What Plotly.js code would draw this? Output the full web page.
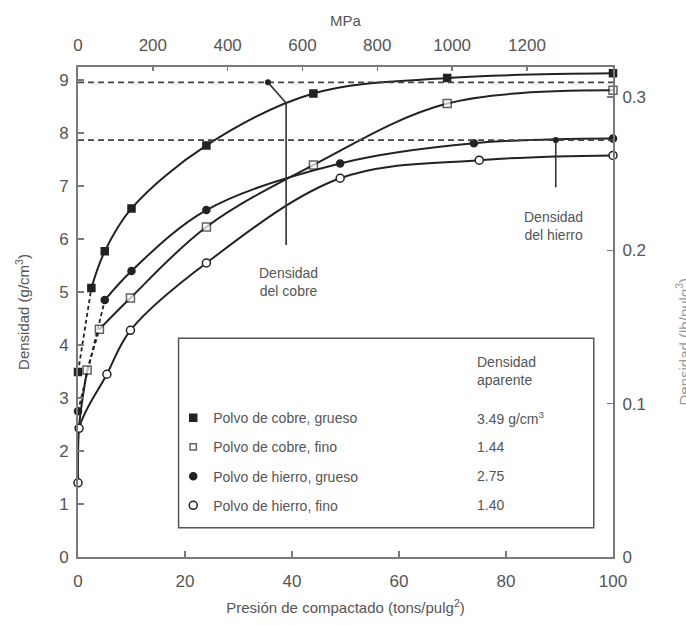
<!DOCTYPE html>
<html>
<head>
<meta charset="utf-8">
<script src="https://cdn.plot.ly/plotly-3.0.1.min.js"></script>
<style>html,body{margin:0;padding:0;background:#fff;}#chart{width:686px;height:625px;}</style>
</head>
<body>
<div id="chart"></div>
<script>
// ---- data ----
const seriesNames = ["Polvo de cobre, grueso", "Polvo de cobre, fino", "Polvo de hierro, grueso", "Polvo de hierro, fino"];
const apparentDensity = ["3.49 g/cm<sup>3</sup>", "1.44", "2.75", "1.40"];

const cuCoarseP = [0, 2.5, 5, 10, 24, 44, 69, 100];
const cuCoarseD = [3.49, 5.08, 5.77, 6.58, 7.77, 8.75, 9.04, 9.13];

const cuFineP = [0, 0.2, 1.7, 4, 9.8, 24, 44, 69, 100];
const cuFineD = [1.44, 2.45, 3.53, 4.30, 4.89, 6.23, 7.40, 8.56, 8.81];

const feCoarseP = [0, 5, 10, 24, 49, 74, 100];
const feCoarseD = [2.75, 4.85, 5.40, 6.55, 7.43, 7.81, 7.90];

const feFineP = [0, 0.2, 5.4, 9.8, 24, 49, 75, 100];
const feFineD = [1.40, 2.43, 3.45, 4.28, 5.55, 7.15, 7.49, 7.58];

const copperDensity = 8.96;   // g/cm3
const ironDensity = 7.87;     // g/cm3

const xTicks = [0, 20, 40, 60, 80, 100];
const yTicks = [0, 1, 2, 3, 4, 5, 6, 7, 8, 9];
const mpaTicks = [0, 200, 400, 600, 800, 1000, 1200];
const lbTicks = [0, 0.1, 0.2, 0.3];

// ---- styles ----
const ink = '#222';
const txt = '#555';
const axc = '#7a7a7a';
const FONT = '"Liberation Sans", Arial, sans-serif';

// per-segment dash flags (style only)
const cuCoarseDash = [true, false, false, false, false, false, false];
const cuFineDash   = [false, false, true, false, false, false, false, false];
const feCoarseDash = [true, false, false, false, false, false];
const feFineDash   = [false, false, false, false, false, false, false];

const cuFineMarkerSize = [0, 0, 8, 8, 8, 8, 8, 8, 8];

function lineTraces(x, y, dash) {
  const out = [];
  let start = 0;
  for (let i = 1; i <= dash.length; i++) {
    if (i === dash.length || dash[i] !== dash[start]) {
      out.push({
        x: x.slice(start, i + 1), y: y.slice(start, i + 1),
        mode: 'lines', showlegend: false, hoverinfo: 'skip', cliponaxis: false,
        line: {color: ink, width: dash[start] ? 1.8 : 2, dash: dash[start] ? '4px,3px' : 'solid',
               shape: dash[start] ? 'linear' : 'spline', smoothing: 1}
      });
      start = i;
    }
  }
  return out;
}

function markerTrace(x, y, name, symbol, filled, size) {
  return {
    x: x, y: y, mode: 'markers', name: name, legendgroup: name, cliponaxis: false,
    marker: {symbol: symbol, size: size || 8, color: filled ? ink : '#fff',
             line: {color: ink, width: 1.5}}
  };
}

const traces = [].concat(
  lineTraces(cuCoarseP, cuCoarseD, cuCoarseDash),
  lineTraces(cuFineP, cuFineD, cuFineDash),
  lineTraces(feCoarseP, feCoarseD, feCoarseDash),
  lineTraces(feFineP, feFineD, feFineDash),
  [
    markerTrace(cuCoarseP, cuCoarseD, seriesNames[0], 'square', true, 7),
    markerTrace(cuFineP, cuFineD, seriesNames[1], 'square', false, cuFineMarkerSize),
    markerTrace(feCoarseP, feCoarseD, seriesNames[2], 'circle', true, 7),
    markerTrace(feFineP, feFineD, seriesNames[3], 'circle', false, 8),
    {x: [], y: [], xaxis: 'x2', yaxis: 'y2', showlegend: false, mode: 'markers'}
  ]
);

const yTop = 9.25;
const lbPerG = 0.3 / 8.68;

const axisBase = {
  showgrid: false, zeroline: false, showline: true, linecolor: axc, linewidth: 2,
  ticks: 'inside', ticklen: 6, tickcolor: axc, tickwidth: 1.5,
  tickfont: {family: FONT, size: 17, color: txt}, automargin: false
};

const annBase = {showarrow: false, font: {family: FONT, size: 14, color: txt}};
const annotations = [
  Object.assign({}, annBase, {x: 39.3, y: 5.19, xref: 'x', yref: 'y', text: 'Densidad<br>del cobre', align: 'center'}),
  Object.assign({}, annBase, {x: 88.8, y: 6.25, xref: 'x', yref: 'y', text: 'Densidad<br>del hierro', align: 'center'}),
  Object.assign({}, annBase, {x: 74.2, y: 3.52, xref: 'x', yref: 'y', xanchor: 'left', text: 'Densidad<br>aparente', align: 'left'}),
  Object.assign({}, annBase, {x: 1, y: 0.5, xref: 'paper', yref: 'paper', xshift: 81, yshift: -30,
    text: 'Densidad (lb/pulg<sup>3</sup>)', textangle: -90, font: {family: FONT, size: 15, color: '#999'}})
];
const legendRowsY = [2.62, 2.08, 1.53, 0.98];
apparentDensity.forEach((t, i) => {
  annotations.push(Object.assign({}, annBase, {x: 74.2, y: legendRowsY[i], xref: 'x', yref: 'y', xanchor: 'left', text: t}));
});

const shapes = [
  {type: 'line', xref: 'x', yref: 'y', x0: 0, x1: 100, y0: copperDensity, y1: copperDensity,
   line: {color: '#444', width: 1.8, dash: '6px,4px'}},
  {type: 'line', xref: 'x', yref: 'y', x0: 0, x1: 100, y0: ironDensity, y1: ironDensity,
   line: {color: '#444', width: 1.8, dash: '6px,4px'}},
  {type: 'rect', xref: 'x', yref: 'y', x0: 18.8, x1: 96.4, y0: 0.55, y1: 4.13,
   line: {color: '#555', width: 1.5}},
  {type: 'path', xref: 'x', yref: 'y', path: 'M 35.5 8.96 L 38.9 8.57 L 38.9 5.89',
   line: {color: '#333', width: 1.6}},
  {type: 'path', xref: 'x', yref: 'y', path: 'M 89.3 7.87 L 89.3 6.98',
   line: {color: '#333', width: 1.6}},
  {type: 'circle', xref: 'x', yref: 'y', xsizemode: 'pixel', ysizemode: 'pixel',
   xanchor: 35.5, yanchor: copperDensity, x0: -3, x1: 3, y0: -3, y1: 3, fillcolor: '#222', line: {width: 0}},
  {type: 'circle', xref: 'x', yref: 'y', xsizemode: 'pixel', ysizemode: 'pixel',
   xanchor: 89.3, yanchor: ironDensity, x0: -3, x1: 3, y0: -3, y1: 3, fillcolor: '#222', line: {width: 0}}
];

const layout = {
  width: 686, height: 625,
  margin: {l: 78, r: 73, t: 67, b: 68, pad: 0},
  paper_bgcolor: '#fff', plot_bgcolor: '#fff',
  font: {family: FONT, color: txt},
  showlegend: true,
  legend: {x: 0.178, xanchor: 'left', y: 0.316, yanchor: 'top', bgcolor: 'rgba(0,0,0,0)',
           borderwidth: 0, font: {family: FONT, size: 14, color: txt},
           traceorder: 'grouped', tracegroupgap: 8, itemclick: false},
  xaxis: Object.assign({}, axisBase, {range: [0, 100], tickvals: xTicks, ticklabelstandoff: 8,
    title: {text: 'Presión de compactado (tons/pulg<sup>2</sup>)', font: {family: FONT, size: 15, color: txt}, standoff: 12}}),
  yaxis: Object.assign({}, axisBase, {range: [0, yTop], tickvals: yTicks, ticklabelstandoff: 4,
    title: {text: 'Densidad (g/cm<sup>3</sup>)', font: {family: FONT, size: 15, color: txt}, standoff: 26}}),
  xaxis2: Object.assign({}, axisBase, {overlaying: 'x', side: 'top', anchor: 'y', range: [0, 1430],
    tickvals: mpaTicks, ticklen: 4, ticklabelstandoff: 7,
    title: {text: 'MPa', font: {family: FONT, size: 15, color: txt}, standoff: 6}}),
  yaxis2: Object.assign({}, axisBase, {overlaying: 'y', side: 'right', anchor: 'x', range: [0, yTop * lbPerG],
    tickvals: lbTicks, ticktext: ['0', '0.1', '0.2', '0.3'], ticklabelstandoff: 4}),
  annotations: annotations,
  shapes: shapes
};

Plotly.newPlot('chart', traces, layout, {staticPlot: true, displayModeBar: false});
</script>
</body>
</html>
